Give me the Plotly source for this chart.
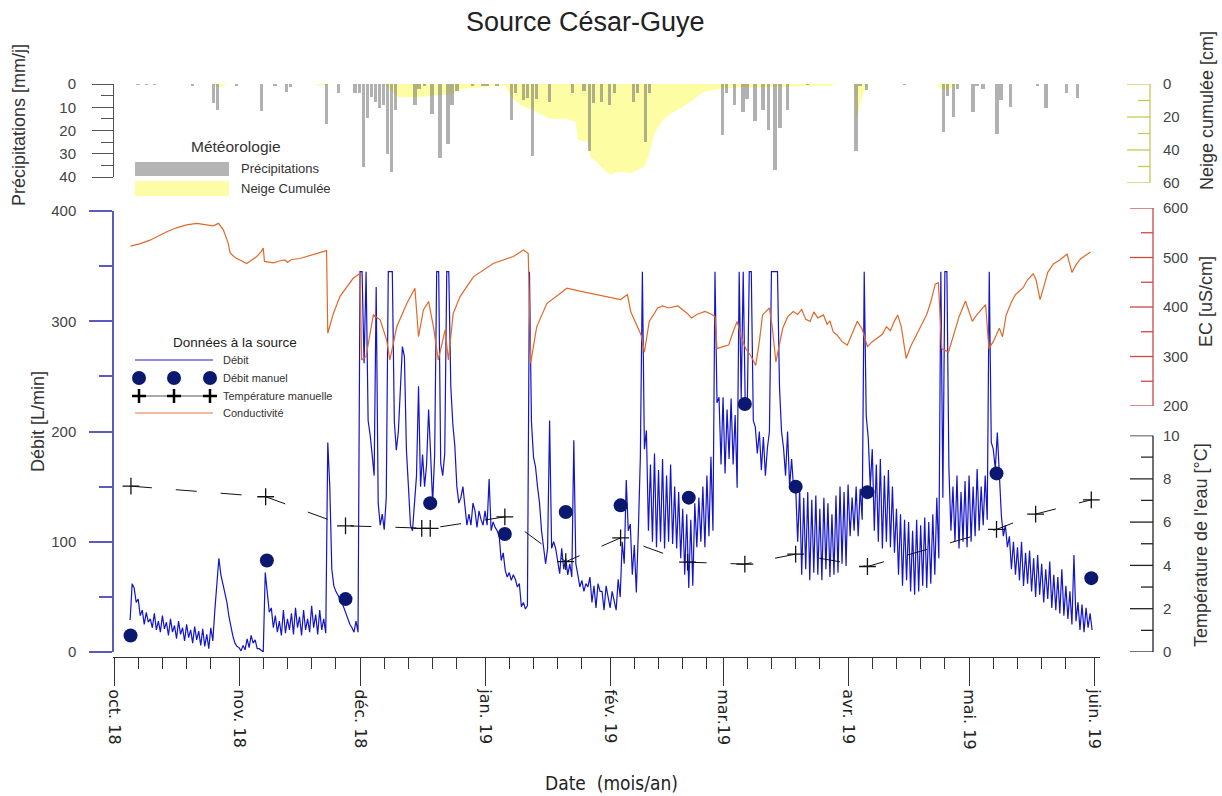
import pandas as pd
import plotly.graph_objects as go

# ---------------- DATA ----------------
origine = pd.Timestamp("2018-10-01")

# Débit [L/min], two readings per day (00h, 12h), per month
debit_oct = [29, 62, 58, 45, 48, 33, 38, 25, 36, 27, 30, 22, 35, 20, 28, 18, 33, 21, 27, 15,
             30, 18, 24, 12, 28, 16, 22, 10, 25, 13, 20, 8, 23, 11, 19, 6, 21, 5, 16, 3,
             22, 10, 38, 60, 85, 70, 62, 52, 45, 32, 22, 14, 8, 5]
debit_nov = [4, 1, 6, 2, 12, 4, 15, 8, 11, 3, 3, 1, 0, 72, 50, 36, 40, 22, 33, 18,
             28, 15, 38, 17, 30, 20, 35, 16, 40, 22, 32, 15, 38, 20, 30, 18, 42, 22, 34, 16,
             38, 20, 30, 17, 190, 150, 75, 60, 55, 52, 48, 45, 40, 35, 30, 25, 22, 18, 28, 18]
debit_dec = [345, 345, 262, 345, 210, 197, 179, 160, 331, 135, 115, 125, 111, 140, 345, 345,
             345, 209, 183, 200, 240, 277, 268, 183, 150, 115, 110, 135, 160, 241, 150, 179,
             150, 170, 220, 179, 135, 179, 345, 345, 171, 160, 180, 345, 345, 241, 207, 187,
             150, 135, 140, 150, 135, 115, 125, 115, 135, 128, 113, 128, 120, 115]
debit_jan = [128, 115, 157, 110, 118, 113, 110, 105, 83, 90, 74, 68, 72, 65, 70, 66, 59, 62,
             41, 45, 39, 42, 345, 209, 177, 168, 150, 135, 110, 94, 80, 94, 210, 94, 100, 94,
             80, 71, 94, 75, 85, 70, 80, 68, 192, 80, 70, 59, 65, 55, 62, 59, 68, 45, 60, 40,
             62, 55, 55, 38, 60, 50]
debit_fev = [40, 55, 45, 38, 66, 50, 100, 80, 156, 110, 116, 70, 97, 54, 110, 177, 345, 184,
             201, 110, 170, 100, 180, 95, 165, 100, 175, 94, 160, 100, 170, 98, 150, 94,
             145, 85, 130, 70, 125, 58, 120, 60, 135, 95, 140, 100, 150, 95, 160, 105,
             177, 110, 345, 226, 231, 170]
debit_mar = [231, 162, 220, 175, 230, 170, 215, 149, 345, 230, 345, 225, 220, 345, 345, 210,
             204, 180, 200, 165, 195, 160, 185, 200, 345, 345, 345, 345, 240, 200, 185, 160,
             200, 150, 175, 148, 150, 100, 148, 70, 140, 75, 145, 65, 138, 72, 142, 70,
             130, 65, 140, 75, 135, 68, 125, 70, 142, 72, 150, 80, 145, 78]
debit_avr = [152, 105, 140, 110, 150, 105, 148, 120, 345, 214, 194, 150, 184, 110, 170, 100,
             175, 94, 160, 100, 165, 95, 150, 90, 130, 70, 125, 60, 120, 65, 118, 55,
             110, 52, 120, 55, 115, 60, 122, 58, 118, 62, 125, 70, 140, 85, 345, 140,
             345, 345, 166, 110, 150, 100, 160, 94, 145, 100, 155, 95]
debit_mai = [160, 100, 150, 105, 166, 110, 150, 115, 160, 120, 345, 190, 184, 166, 199, 160,
             124, 105, 115, 95, 105, 75, 100, 70, 95, 65, 100, 60, 90, 62, 92, 55,
             85, 50, 88, 52, 80, 45, 75, 48, 82, 40, 70, 38, 68, 35, 75, 33, 60, 30,
             55, 25, 88, 28, 45, 20, 43, 18, 40, 22, 35, 20]
debit_debuts = ["2018-10-05", "2018-11-01", "2018-12-01", "2019-01-01",
                "2019-02-01", "2019-03-01", "2019-04-01", "2019-05-01"]

# Débit manuel (days since 1 Oct 2018, L/min)
dm_jour = [4.1, 37.9, 57.4, 78.4, 96.9, 112, 125.6, 142.5, 156.4, 169, 186.8, 218.8, 242.3]
dm_val = [15, 83, 48, 135, 107, 127, 133, 140, 225, 150, 145, 162, 67]

# Température manuelle (days since 1 Oct 2018, °C)
temp_jour = [4.2, 37.6, 57.4, 76.3, 78.4, 96.9, 112, 125.6, 142.2, 156.4, 169, 186.8, 218.8, 228.5, 242.3]
temp_val = [7.66, 7.17, 5.83, 5.71, 5.71, 6.24, 4.17, 5.27, 4.15, 4.06, 4.52, 3.95, 5.66, 6.37, 7.03]

# Conductivité EC [uS/cm]
ec_jour = [4.1, 6.5, 8.9, 11, 13.1, 15.5, 18, 20.5, 22.5, 24.6, 25.9, 27.1, 28.3, 28.8, 30, 31.2,
           32.9, 34, 35.4, 36.5, 37, 37.3, 39.5, 41, 42.4, 43, 44, 46.1, 49, 52.7, 53, 54.4,
           56, 59.3, 61, 61.4, 62.5, 64.3, 66, 67.6, 68.4, 70.1, 72.6, 74.6, 75.5, 76.7,
           78, 79.2, 80.4, 82.1, 82.9, 84.1, 85.8, 89.1, 94, 99, 101.5, 102.7, 103.3,
           104.8, 107.3, 111.4, 112.3, 115.5, 120.5, 125.6, 127.3, 128.1, 130.7, 131.5,
           132.7, 134.8, 136, 137.5, 139.8, 141, 142, 143.2, 144.5, 146.5, 148, 149, 149.5,
           151, 152.4, 153.5, 154.5, 155.5, 156.6, 158, 159.1, 160, 160.8, 162.5, 163.2,
           164.1, 165.8, 167, 168.4, 169.5, 170.5, 171.5, 172.6, 173.5, 174.5, 175.9,
           176.8, 177.5, 178.3, 179.3, 180.5, 181.8, 183, 184.3, 185.5, 186.8, 188, 189.3,
           190.5, 191.5, 192.5, 193.5, 194.3, 195.2, 196.4, 197.5, 199.4, 200.5, 201.5,
           202.5, 203.6, 204.4, 205.2, 206.9, 208, 209.5, 211.1, 212.8, 214, 215, 216.1,
           216.9, 218, 219.5, 220.3, 221.2, 222.5, 223.5, 225.4, 226.5, 227.9, 228.6,
           229.6, 230.5, 231.5, 232.9, 234.5, 236.3, 237.5, 238.5, 239.6, 241, 242.1]
ec_val = [523, 528, 535, 544, 552, 560, 566, 569, 566, 564, 569, 556, 529, 509, 500, 495,
          488, 494, 502, 512, 519, 492, 489, 493, 495, 490, 496, 498, 505, 514, 347, 387,
          421, 458, 468, 293, 300, 384, 374, 333, 293, 360, 407, 438, 340, 394,
          411, 360, 293, 354, 293, 387, 421, 461, 488, 502, 515, 508, 286,
          360, 407, 434, 438, 432, 424, 415, 425, 391, 343, 309,
          371, 398, 402, 398, 402, 395, 388, 378, 385, 391, 386, 381, 316,
          320, 323, 350, 371, 340, 316, 300, 282, 330, 384, 398, 360,
          289, 357, 380, 391, 385, 395, 375, 371, 390, 378, 384,
          365, 372, 350, 343, 330, 323, 345, 371, 355, 320, 330, 337,
          345, 360, 352, 372, 384, 360, 296, 320, 350, 368, 385,
          410, 446, 449, 316, 309, 340, 380, 412, 371, 385, 395, 405,
          316, 330, 357, 340, 384, 410, 425, 439, 455, 467, 455,
          415, 440, 470, 487, 495, 507, 470, 485, 497, 505, 511]

# Neige cumulée [cm]
neige_jour = [0, 24.5, 25.5, 27, 28, 50, 51, 53, 54, 66, 68, 69.5, 70.5, 75, 80, 84, 86, 90, 95,
              97, 98.5, 101, 104, 108, 112, 114.5, 115, 117.5, 118, 120, 121.5, 123, 125, 128,
              130, 131.5, 132.5, 134, 136, 138, 141, 144, 146, 150, 155, 160, 170, 178, 179,
              183.5, 184, 185, 186, 187, 204, 205, 206.5, 208, 209, 243]
neige_val = [0, 0, 2, 1.5, 0, 0, 1, 0.5, 0, 0, 2, 6, 8, 8, 7, 6, 3, 2, 1,
             1, 8, 13, 16, 21, 21, 23, 34, 35, 44, 48, 52, 55, 53, 54,
             52, 50, 44, 30, 22, 18, 14, 9, 5, 3, 2, 2, 1.5, 1, 0,
             0, 22, 12, 4, 0, 0, 3, 4, 2, 0, 0]

# Précipitations [mm/j]
precip_jour = [6, 8, 10, 19.5, 24.6, 25.6, 30.4, 36.6, 39.9, 42.8, 43.8, 52.7, 55.6, 59.8, 60.8,
               61.8, 62.8, 63.8, 64.8, 65.8, 66.8, 67.8, 68.8, 69.8, 74.6, 75.6, 77, 78.8,
               80.8, 82.8, 83.8, 85, 88.9, 91.5, 92.5, 95, 98.6, 99.6, 101.5, 102.5, 103.8,
               104.8, 108, 113.7, 116.5, 117.9, 118.9, 120.9, 122.9, 124.1, 128.8, 129.8,
               131.8, 132.8, 150.9, 151.9, 153.9, 155.9, 156.9, 158.9, 160.9, 162.2, 163.9,
               165.1, 167, 172, 184, 185, 186.5, 196, 205.6, 206.6, 208.1, 209.1, 213, 214,
               215.5, 218.9, 219.9, 222.2, 229, 231.1, 236.2, 238.9]
precip_val = [0.3, 0.5, 0.4, 1, 8, 11, 1, 11.5, 1, 3.5, 1.5, 17, 4, 4, 4,
              35.6, 14.7, 5.6, 7.6, 10.5, 9, 30, 38, 11, 9, 2, 1, 13,
              32, 26, 9, 3, 1, 1, 1, 1, 15.5, 4, 7, 6, 31,
              6.5, 7.6, 4, 3, 29, 8, 7.6, 9, 4, 7.6, 4,
              24.8, 4, 22, 4, 9, 12, 6.5, 16, 11, 19.8, 37,
              19, 11, 0.5, 29, 1, 2.5, 0.5, 20.5, 5, 14, 2, 12, 1,
              2, 21.5, 7, 10, 1, 10.5, 4, 6]

# Axis ticks
mois_dates = ["2018-10-01", "2018-11-01", "2018-12-01", "2019-01-01", "2019-02-01",
              "2019-03-01", "2019-04-01", "2019-05-01", "2019-06-01"]
mois_labels = ["oct. 18", "nov. 18", "déc. 18", "jan. 19", "fév. 19", "mar.19",
               "avr. 19", "mai. 19", "juin. 19"]
neige_ticks, neige_minor = [0, 20, 40, 60], [10, 30, 50]
ec_ticks, ec_minor = [200, 300, 400, 500, 600], [250, 350, 450, 550]
temp_ticks, temp_minor = [0, 2, 4, 6, 8, 10], [1, 3, 5, 7, 9]

# ---------------- BUILD ----------------
def jours(j):
    return origine + pd.to_timedelta(j, unit="D")

debit_x, debit_y = [], []
for debut, vals in zip(debit_debuts, [debit_oct, debit_nov, debit_dec, debit_jan,
                                       debit_fev, debit_mar, debit_avr, debit_mai]):
    debit_x += list(pd.date_range(debut, periods=len(vals), freq="12h"))
    debit_y += vals

minor_dates = []
for m in mois_dates[:-1]:
    d0 = pd.Timestamp(m)
    for k in (6, 12, 18, 24):
        minor_dates.append(d0 + pd.Timedelta(days=k))

L, R, T, B = 113, 1153, 84, 657
def fx(p):
    return (p - L) / (R - L)
def fy(p):
    return (B - p) / (B - T)

FONT = "Liberation Sans, Arial, sans-serif"
fig = go.Figure()

# snow (y2) under precipitation bars (y4)
fig.add_trace(go.Scatter(x=jours(neige_jour), y=neige_val, yaxis="y2", mode="lines",
                         fill="tozeroy", fillcolor="#fdfda4", line=dict(width=0, color="#fdfda4"),
                         hoverinfo="skip"))
fig.add_trace(go.Bar(x=jours(precip_jour), y=precip_val, yaxis="y4",
                     width=0.85 * 86400000, marker=dict(color="rgba(105,105,105,0.52)", line=dict(width=0))))
# débit
fig.add_trace(go.Scatter(x=debit_x, y=debit_y, yaxis="y", mode="lines",
                         line=dict(color="#1414c8", width=1.2)))
fig.add_trace(go.Scatter(x=jours(dm_jour), y=dm_val, yaxis="y", mode="markers",
                         marker=dict(color="#0b1870", size=14)))
# EC
fig.add_trace(go.Scatter(x=jours(ec_jour), y=ec_val, yaxis="y3", mode="lines",
                         line=dict(color="#e0692a", width=1.2)))
# température
fig.add_trace(go.Scatter(x=jours(temp_jour), y=temp_val, yaxis="y5", mode="lines+markers",
                         line=dict(color="#111", width=1, dash="21px,24px"),
                         marker=dict(symbol="cross-thin", size=12, line=dict(color="#111", width=1.3))))

tickfont = dict(family=FONT, size=15, color="#444")
common = dict(showgrid=False, zeroline=False, anchor="free", fixedrange=True,
              automargin=False, tickfont=tickfont)
right = dict(side="right", position=1, showline=False, ticks="", ticklabelstandoff=9, tickmode="array")

fig.update_layout(
    template="none", width=1222, height=796,
    margin=dict(l=L, r=1222 - R, t=T, b=796 - B),
    paper_bgcolor="white", plot_bgcolor="rgba(0,0,0,0)", showlegend=False,
    font=dict(family=FONT, color="#333"),
    bargap=0,
    xaxis=dict(domain=[0, fx(1100)], type="date", range=["2018-09-30 18:00", "2019-06-02 11:00"],
               anchor="free", position=0, showline=True, linecolor="#333", linewidth=1,
               showgrid=False, zeroline=False, automargin=False, fixedrange=True,
               tickmode="array", tickvals=mois_dates, ticktext=mois_labels,
               ticks="outside", ticklen=28, tickcolor="#333", tickwidth=1, tickangle=90,
               tickfont=dict(family="DejaVu Sans", size=16, color="#222"),
               minor=dict(tickmode="array", tickvals=minor_dates, ticks="outside", ticklen=11,
                          tickcolor="#333", tickwidth=1, showgrid=False)),
    yaxis=dict(domain=[fy(652), fy(211)], range=[0, 400], position=0, side="left", showline=True,
               linecolor="#5a5abf", linewidth=1.5, ticks="outside", ticklen=23, tickcolor="#5a5abf",
               tickwidth=1.5, tickmode="array", tickvals=[0, 100, 200, 300, 400], ticklabelstandoff=10,
               minor=dict(tickmode="array", tickvals=[50, 150, 250, 350], ticks="outside", ticklen=13,
                          tickcolor="#5a5abf", tickwidth=1.5), **common),
    yaxis2=dict(domain=[fy(183), fy(84)], range=[60, 0], tickvals=neige_ticks, **right, **common),
    yaxis3=dict(domain=[fy(406), fy(208)], range=[200, 600], tickvals=ec_ticks, **right, **common),
    yaxis4=dict(domain=[fy(177), fy(84)], range=[40, 0], position=0, side="left", showline=True,
                linecolor="#555", linewidth=1, ticks="outside", ticklen=21, tickcolor="#555",
                tickwidth=1, tickmode="array", tickvals=[0, 10, 20, 30, 40], ticklabelstandoff=13,
                minor=dict(tickmode="array", tickvals=[5, 15, 25, 35], ticks="outside", ticklen=12,
                           tickcolor="#555", tickwidth=1), **common),
    yaxis5=dict(domain=[fy(652), fy(435.5)], range=[0, 10], tickvals=temp_ticks, **right, **common),
)

ann = []
def txt(x, y, s, size, angle=0, xanchor="center", color="#333", family=FONT):
    ann.append(dict(x=fx(x), y=fy(y), xref="paper", yref="paper", text=s, showarrow=False,
                    textangle=angle, xanchor=xanchor, yanchor="middle",
                    font=dict(family=family, size=size, color=color)))

txt(585, 22, "Source César-Guye", 27, color="#222")
txt(19, 125, "Précipitations [mm/j]", 18, -90)
txt(38, 422, "Débit [L/min]", 18, -90)
txt(1207, 111, "Neige cumulée [cm]", 18, -90)
txt(1206, 302, "EC [uS/cm]", 18, -90)
txt(1201, 545, "Température de l'eau [°C]", 18, -90)
txt(611, 783, "Date  (mois/an)", 19, family="DejaVu Sans Condensed, DejaVu Sans", color="#222")
# Météorologie legend
txt(236, 147, "Météorologie", 15.5)
txt(239, 168, "Précipitations", 13, xanchor="left")
txt(239, 188, "Neige Cumulée", 13, xanchor="left")
# Données à la source legend
txt(235, 342, "Données à la source", 13.5, color="#222")
txt(221, 360, "Débit", 11, xanchor="left")
txt(221, 378, "Débit manuel", 11, xanchor="left")
txt(221, 396, "Température manuelle", 11, xanchor="left")
txt(221, 413, "Conductivité", 11, xanchor="left")

shapes = []
def rect(x0, y0, x1, y1, color):
    shapes.append(dict(type="rect", xref="paper", yref="paper", x0=fx(x0), x1=fx(x1),
                       y0=fy(y1), y1=fy(y0), fillcolor=color, line=dict(width=0)))
def seg(x0, y0, x1, y1, color, w):
    shapes.append(dict(type="line", xref="paper", yref="paper", x0=fx(x0), x1=fx(x1),
                       y0=fy(y0), y1=fy(y1), line=dict(color=color, width=w)))

# right-hand axes: line and inward ticks, placed with each axis' own scale
def axe_droite(yref, color, majors, minors, xline):
    vals = majors + minors
    shapes.append(dict(type="line", xref="paper", yref=yref, x0=fx(xline), x1=fx(xline),
                       y0=min(vals), y1=max(vals), line=dict(color=color, width=1.3)))
    for v in majors:
        shapes.append(dict(type="line", xref="paper", yref=yref, x0=fx(xline - 23), x1=fx(xline),
                           y0=v, y1=v, line=dict(color=color, width=1.3)))
    for v in minors:
        shapes.append(dict(type="line", xref="paper", yref=yref, x0=fx(xline - 12), x1=fx(xline),
                           y0=v, y1=v, line=dict(color=color, width=1.3)))

axe_droite("y2", "#c8c856", neige_ticks, neige_minor, 1150)
axe_droite("y3", "#c94848", ec_ticks, ec_minor, 1153)
axe_droite("y5", "#222222", temp_ticks, temp_minor, 1153)

rect(135, 162, 229, 176, "#b4b4b4")
rect(135, 181, 229, 196, "#fdfda8")
seg(135, 360, 213, 360, "#6a6ad6", 1.5)
for cx in (139, 174, 210):
    shapes.append(dict(type="circle", xref="paper", yref="paper", x0=fx(cx - 7), x1=fx(cx + 7),
                       y0=fy(385), y1=fy(371), fillcolor="#0b1870", line=dict(width=0)))
    seg(cx - 7, 396, cx + 7, 396, "#000", 2.5)
    seg(cx, 389, cx, 403, "#000", 2.5)
seg(146, 396, 167, 396, "#555", 1)
seg(181, 396, 203, 396, "#555", 1)
seg(135, 413, 213, 413, "#f5a27e", 1.5)

fig.update_layout(annotations=ann, shapes=shapes)
fig.write_html("out.html", config={"displayModeBar": False})

# remove the default page margin so the figure sits at the window's top-left corner
with open("out.html", encoding="utf-8") as f:
    page = f.read()
page = page.replace("<head>", "<head><style>html,body{margin:0;padding:0;overflow:hidden;}</style>", 1)
with open("out.html", "w", encoding="utf-8") as f:
    f.write(page)
